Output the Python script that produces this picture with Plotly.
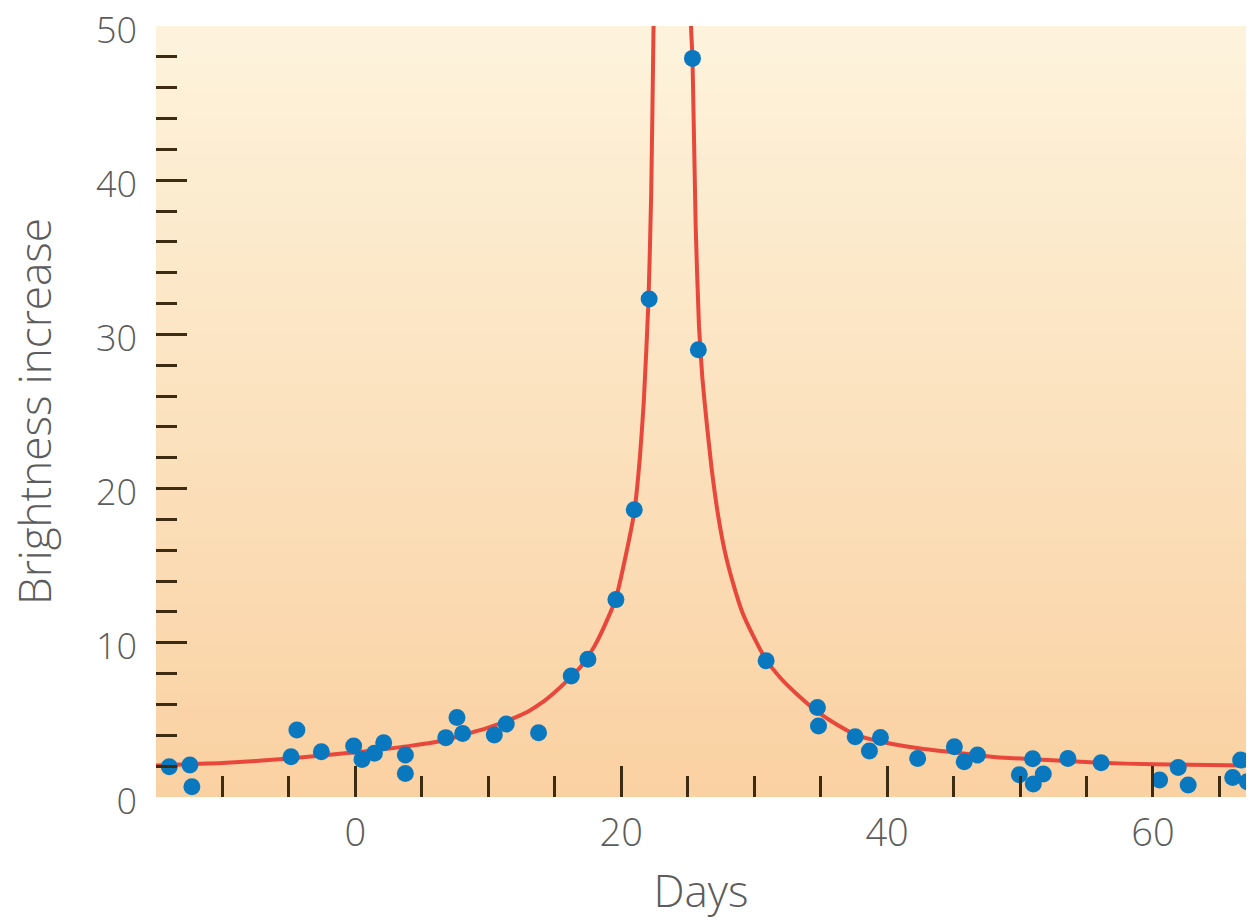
import plotly.graph_objects as go

# Observed data points (days, brightness increase)
obs_days = [-14.0, -12.45, -12.3, -4.84, -4.4, -2.56, -0.13, 0.5, 1.43, 2.13, 3.76, 3.76,
            6.8, 7.64, 8.07, 10.45, 11.35, 13.78, 16.24, 17.49, 19.6, 20.98, 22.1,
            25.36, 25.8, 30.9, 34.76, 34.84, 37.6, 38.67, 39.5, 42.3, 45.06, 45.8, 46.8,
            49.95, 50.95, 51.0, 51.75, 53.6, 56.1, 60.5, 61.9, 62.65, 66.0, 66.6, 67.1]
obs_bright = [1.96, 2.07, 0.67, 2.61, 4.34, 2.94, 3.30, 2.44, 2.83, 3.52, 2.72, 1.53,
              3.85, 5.16, 4.12, 4.02, 4.73, 4.17, 7.84, 8.94, 12.8, 18.63, 32.3,
              47.9, 29.0, 8.83, 5.81, 4.60, 3.91, 2.98, 3.86, 2.50, 3.26, 2.29, 2.72,
              1.45, 2.48, 0.84, 1.49, 2.50, 2.22, 1.10, 1.92, 0.78, 1.27, 2.40, 0.99]

# Fitted light curve
fit_days = [-15, -10, -5, 0, 4, 6.5, 8, 10, 12, 13, 14, 15, 16, 17, 18, 19, 19.6, 20.3, 21,
            21.4, 21.7, 22.05, 22.25, 22.43, 22.9, 24.9, 25.25, 25.36, 25.6, 25.85, 26.1,
            26.4, 26.8, 27.3, 27.8, 28.4, 29.1, 29.9, 30.9, 32.0, 33.3, 34.8, 36.5, 37.6,
            39.5, 42.5, 45, 48, 51, 56, 60, 67]
fit_bright = [2.05, 2.2, 2.5, 2.9, 3.3, 3.65, 4.0, 4.5, 5.15, 5.55, 6.1, 6.8, 7.6, 8.5, 9.8,
              11.6, 12.9, 15.5, 18.6, 22.0, 25.7, 32.2, 39.0, 50, 90, 90, 50, 47.9, 37.0,
              30.5, 27.2, 24.5, 21.3, 18.2, 15.9, 13.9, 12.0, 10.5, 8.9, 7.7, 6.6, 5.5,
              4.55, 4.05, 3.6, 3.15, 2.9, 2.6, 2.45, 2.22, 2.12, 2.05]

x_major = [0, 20, 40, 60]
x_minor = [-10, -5, 5, 10, 15, 25, 30, 35, 45, 50, 55, 65]
y_labels = [0, 10, 20, 30, 40, 50]
y_major = [10, 20, 30, 40]
y_minor = [2, 4, 6, 8, 12, 14, 16, 18, 22, 24, 26, 28, 32, 34, 36, 38, 42, 44, 46, 48]

FONT = "Open Sans"
TICK_COLOR = "#3d2b12"
LABEL_COLOR = "#5c5c5c"

fig = go.Figure()
fig.add_trace(go.Scatter(x=fit_days, y=fit_bright, mode="lines",
                         line=dict(color="#e8473b", width=4, shape="spline", smoothing=0.5),
                         hoverinfo="skip", showlegend=False))
fig.add_trace(go.Scatter(x=obs_days, y=obs_bright, mode="markers",
                         marker=dict(color="#0a78be", size=17), showlegend=False))
fig.add_trace(go.Scatter(x=[None], y=[None], yaxis="y2", showlegend=False, hoverinfo="skip"))

# vertical gradient background (cream at top, peach at bottom)
top = (253, 243, 220)
bot = (250, 209, 162)
n = 60
shapes = []
for i in range(n):
    t = i / (n - 1)
    c = tuple(round(bot[k] + (top[k] - bot[k]) * t) for k in range(3))
    shapes.append(dict(type="rect", xref="paper", yref="paper", x0=0, x1=1,
                       y0=i / n, y1=min(1, (i + 1) / n + 0.004), layer="below",
                       line=dict(width=0), fillcolor="rgb(%d,%d,%d)" % c))

fig.update_layout(
    width=1254, height=920,
    margin=dict(l=156, r=8, t=26, b=123, autoexpand=False),
    paper_bgcolor="white", plot_bgcolor="rgb(252,228,192)",
    font=dict(family=FONT, color=LABEL_COLOR, weight=300),
    shapes=shapes,
    xaxis=dict(range=[-15, 67], showgrid=False, zeroline=False, showline=False, automargin=False,
               tickvals=x_major, ticks="inside", ticklen=31, tickwidth=2.5, tickcolor=TICK_COLOR,
               minor=dict(tickvals=x_minor, ticks="inside", ticklen=21, tickwidth=2.5, tickcolor=TICK_COLOR),
               tickfont=dict(size=38, family=FONT, color=LABEL_COLOR, weight=300),
               ticklabelstandoff=10, ticklabeloverflow="allow",
               title=dict(text="Days", font=dict(size=44, family=FONT, color=LABEL_COLOR, weight=300),
                          standoff=26)),
    yaxis=dict(range=[0, 50], showgrid=False, zeroline=False, showline=False, automargin=False,
               tickvals=y_labels, ticks="inside", ticklen=5, tickcolor="rgba(0,0,0,0)",
               tickfont=dict(size=36, family=FONT, color=LABEL_COLOR, weight=300),
               ticklabelstandoff=18, ticklabelshift=4, ticklabeloverflow="allow",
               title=dict(text="Brightness increase", font=dict(size=44, family=FONT, color=LABEL_COLOR, weight=300),
                          standoff=30)),
    yaxis2=dict(range=[0, 50], overlaying="y", side="left", showgrid=False, zeroline=False,
                showline=False, showticklabels=False, automargin=False,
                tickvals=y_major, ticks="inside", ticklen=31, tickwidth=2.5, tickcolor=TICK_COLOR,
                minor=dict(tickvals=y_minor, ticks="inside", ticklen=21, tickwidth=2.5, tickcolor=TICK_COLOR)),
)

fig.write_html("out.html")
